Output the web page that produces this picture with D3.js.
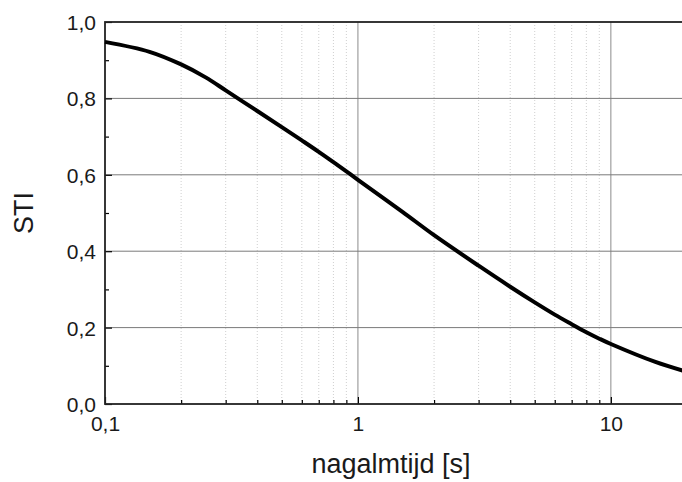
<!DOCTYPE html>
<html>
<head>
<meta charset="utf-8">
<script src="https://cdn.jsdelivr.net/npm/d3@7"></script>
<style>
  html, body { margin: 0; padding: 0; background: #fff; }
  svg { display: block; font-family: Arial, "Liberation Sans", sans-serif; }
</style>
</head>
<body>
<div id="chart"></div>
<script>
// reverberation time (s) and speech transmission index
const reverbTime = [0.1, 0.15, 0.2, 0.25, 0.3, 0.4, 0.5, 0.6, 0.7, 0.8, 0.9, 1, 1.5, 2, 3, 4, 5, 6, 7, 8, 9, 10, 15, 20];
const sti = [0.948, 0.922, 0.889, 0.855, 0.821, 0.767, 0.725, 0.690, 0.660, 0.633, 0.609, 0.587, 0.503, 0.442, 0.362, 0.307, 0.266, 0.234, 0.209, 0.188, 0.171, 0.157, 0.110, 0.084];

const xTicks = [0.1, 1, 10];
const xTickLabels = ['0,1', '1', '10'];
const xMinor = [0.2, 0.3, 0.4, 0.5, 0.6, 0.7, 0.8, 0.9, 2, 3, 4, 5, 6, 7, 8, 9, 20];
const yTicks = [0, 0.2, 0.4, 0.6, 0.8, 1.0];
const yMinor = [0.1, 0.3, 0.5, 0.7, 0.9];

const width = 682;
const height = 482;
const marginLeft = 105;
const marginTop = 22;
const plotRight = 687;   // frame runs just past the picture edge
const plotBottom = 404;

const x = d3.scaleLog()
  .domain([0.1, 20])
  .range([marginLeft, plotRight]);

const y = d3.scaleLinear()
  .domain([0, 1])
  .range([plotBottom, marginTop]);

const fmt = (v) => d3.format('.1f')(v).replace('.', ',');

const svg = d3.select('#chart').append('svg')
  .attr('width', width)
  .attr('height', height)
  .attr('viewBox', [0, 0, width, height]);

// minor vertical grid (dotted)
svg.append('g').selectAll('line')
  .data(xMinor)
  .join('line')
    .attr('x1', (d) => x(d)).attr('x2', (d) => x(d))
    .attr('y1', marginTop).attr('y2', plotBottom)
    .attr('stroke', '#cfcfcf')
    .attr('stroke-width', 1)
    .attr('stroke-dasharray', '1,2');

// major grid
svg.append('g').selectAll('line')
  .data(xTicks.slice(1))
  .join('line')
    .attr('x1', (d) => x(d)).attr('x2', (d) => x(d))
    .attr('y1', marginTop).attr('y2', plotBottom)
    .attr('stroke', '#8c8c8c')
    .attr('stroke-width', 1);

svg.append('g').selectAll('line')
  .data(yTicks.slice(1, -1))
  .join('line')
    .attr('x1', marginLeft).attr('x2', plotRight)
    .attr('y1', (d) => y(d)).attr('y2', (d) => y(d))
    .attr('stroke', '#7a7a7a')
    .attr('stroke-width', 1);

// x axis, ticks pointing inward
svg.append('g')
  .attr('transform', `translate(0,${plotBottom})`)
  .call(d3.axisBottom(x).tickValues(xMinor).tickSize(-4).tickFormat(''))
  .call((g) => g.select('.domain').remove())
  .call((g) => g.selectAll('line').attr('stroke', '#000').attr('stroke-width', 1.2));

svg.append('g')
  .attr('transform', `translate(0,${plotBottom})`)
  .call(d3.axisBottom(x).tickValues(xTicks).tickSize(-7).tickPadding(0)
    .tickFormat((d, i) => xTickLabels[i]))
  .call((g) => g.select('.domain').remove())
  .call((g) => g.selectAll('line').attr('stroke', '#000').attr('stroke-width', 1.2))
  .call((g) => g.selectAll('text')
    .attr('dy', null).attr('y', 27)
    .attr('font-size', 21).attr('fill', '#1a1a1a')
    .attr('font-family', 'Arial, "Liberation Sans", sans-serif'));

// y axis, ticks pointing inward
svg.append('g')
  .attr('transform', `translate(${marginLeft},0)`)
  .call(d3.axisLeft(y).tickValues(yMinor).tickSize(-4).tickFormat(''))
  .call((g) => g.select('.domain').remove())
  .call((g) => g.selectAll('line').attr('stroke', '#000').attr('stroke-width', 1.2));

svg.append('g')
  .attr('transform', `translate(${marginLeft},0)`)
  .call(d3.axisLeft(y).tickValues(yTicks).tickSize(-7).tickPadding(0).tickFormat(fmt))
  .call((g) => g.select('.domain').remove())
  .call((g) => g.selectAll('line').attr('stroke', '#000').attr('stroke-width', 1.2))
  .call((g) => g.selectAll('text')
    .attr('x', -9).attr('dy', '0.36em')
    .attr('font-size', 21).attr('fill', '#1a1a1a')
    .attr('font-family', 'Arial, "Liberation Sans", sans-serif'));

// frame
svg.append('rect')
  .attr('x', marginLeft)
  .attr('y', marginTop)
  .attr('width', plotRight - marginLeft)
  .attr('height', plotBottom - marginTop)
  .attr('fill', 'none')
  .attr('stroke', '#222')
  .attr('stroke-width', 1.8);

// curve
const pts = reverbTime.map((t, i) => [t, sti[i]]);
svg.append('path')
  .datum(pts)
  .attr('fill', 'none')
  .attr('stroke', '#000')
  .attr('stroke-width', 4)
  .attr('stroke-linejoin', 'round')
  .attr('d', d3.line()
    .x((d) => x(d[0]))
    .y((d) => y(d[1]))
    .curve(d3.curveCatmullRom.alpha(0.5)));

// axis titles
svg.append('text')
  .attr('x', 391)
  .attr('y', 473)
  .attr('text-anchor', 'middle')
  .attr('font-size', 27)
  .attr('fill', '#1a1a1a')
  .text('nagalmtijd [s]');

svg.append('text')
  .attr('transform', `translate(33,${(marginTop + plotBottom) / 2}) rotate(-90)`)
  .attr('text-anchor', 'middle')
  .attr('font-size', 27)
  .attr('fill', '#1a1a1a')
  .text('STI');
</script>
</body>
</html>
